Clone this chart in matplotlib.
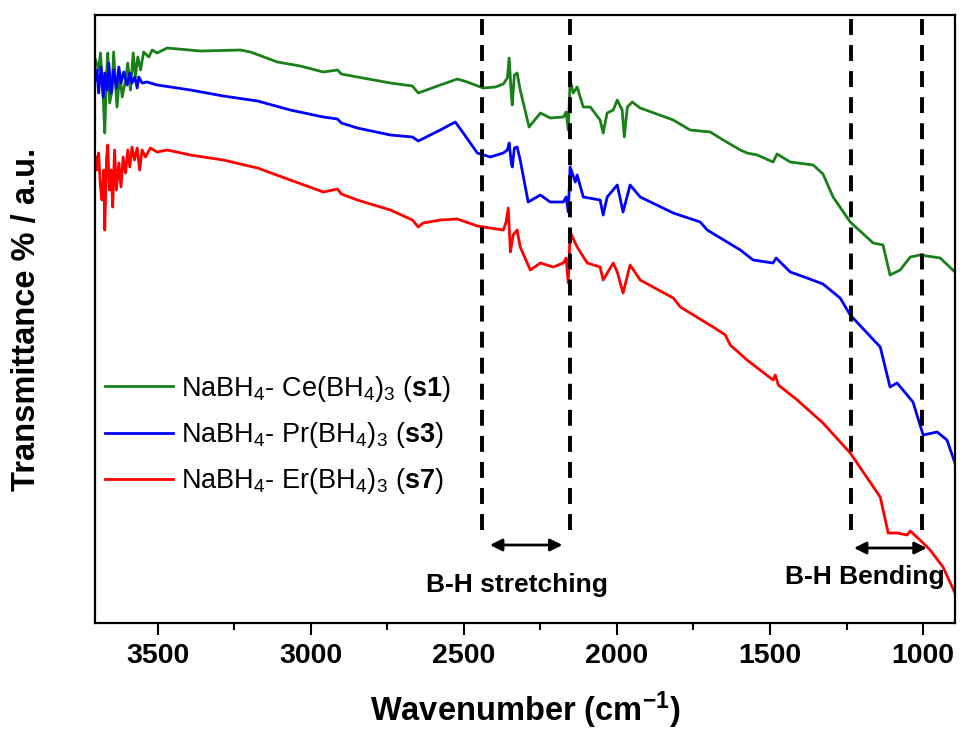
import numpy as np
import matplotlib
matplotlib.use("Agg")
import matplotlib.pyplot as plt

plt.rcParams['font.family'] = ['Liberation Sans', 'DejaVu Sans']
plt.rcParams['mathtext.fontset'] = 'custom'
plt.rcParams['mathtext.rm'] = 'Liberation Sans'
plt.rcParams['mathtext.it'] = 'Liberation Sans:italic'
plt.rcParams['mathtext.bf'] = 'Liberation Sans:bold'

# s1 : NaBH4 - Ce(BH4)3  (wavenumber, transmittance a.u.)
wn_s1 = [3703, 3693, 3687, 3678, 3673, 3667, 3663, 3657, 3649, 3644, 3638, 3633,
         3624, 3616, 3605, 3598, 3589, 3580, 3573, 3565, 3556, 3546, 3529, 3518,
         3502, 3469, 3361, 3230, 3197, 3109, 3034, 2959, 2913, 2900, 2848, 2740,
         2668, 2649, 2577, 2521, 2489, 2437, 2397, 2371, 2358, 2352, 2345, 2342,
         2335, 2326, 2316, 2287, 2250, 2218, 2175, 2166, 2159, 2153, 2143, 2130,
         2110, 2087, 2055, 2045, 2032, 2012, 1999, 1983, 1976, 1966, 1950, 1924,
         1816, 1761, 1695, 1653, 1597, 1575, 1542, 1490, 1477, 1434, 1359, 1327,
         1294, 1238, 1163, 1131, 1108, 1075, 1042, 1010, 944, 896]
t_s1 = [56.3, 55.3, 57.0, 52.6, 49.0, 55.0, 57.0, 52.0, 53.3, 57.1, 54.0, 51.6,
        55.0, 52.6, 54.3, 56.0, 53.3, 57.0, 54.6, 56.6, 55.3, 57.1, 56.6, 57.3,
        57.0, 57.5, 57.2, 57.3, 57.1, 56.1, 55.7, 55.1, 55.3, 54.9, 54.6, 54.0,
        53.7, 53.0, 53.8, 54.4, 54.1, 53.5, 53.6, 53.9, 54.5, 56.5, 52.8, 51.8,
        54.8, 55.0, 53.3, 49.6, 51.0, 50.5, 50.6, 51.1, 49.3, 54.3, 53.0, 53.6,
        51.6, 51.6, 50.3, 49.0, 51.0, 51.3, 52.3, 51.3, 48.6, 51.6, 52.1, 51.5,
        50.3, 49.3, 49.1, 48.3, 47.3, 47.0, 46.8, 46.1, 46.9, 46.1, 45.8, 44.9,
        42.6, 40.1, 38.0, 37.8, 34.8, 35.3, 36.6, 36.8, 36.5, 35.1]

# s3 : NaBH4 - Pr(BH4)3
wn_s3 = [3703, 3698, 3693, 3685, 3678, 3673, 3665, 3660, 3652, 3644, 3635, 3627,
         3620, 3611, 3600, 3591, 3584, 3575, 3567, 3562, 3551, 3535, 3502, 3393,
         3286, 3174, 3067, 2959, 2913, 2900, 2848, 2740, 2668, 2649, 2577, 2528,
         2502, 2456, 2414, 2371, 2358, 2352, 2345, 2342, 2335, 2326, 2316, 2290,
         2250, 2218, 2175, 2166, 2159, 2153, 2136, 2130, 2110, 2055, 2045, 2032,
         1999, 1980, 1957, 1924, 1816, 1728, 1705, 1597, 1555, 1490, 1480, 1434,
         1379, 1327, 1271, 1238, 1140, 1108, 1085, 1033, 1000, 954, 922, 896]
t_s3 = [54.3, 55.3, 53.0, 55.6, 52.6, 55.0, 53.3, 56.0, 53.0, 55.3, 53.5, 55.6,
        54.0, 55.1, 53.8, 55.0, 54.0, 54.6, 53.5, 54.6, 54.0, 54.1, 53.8, 53.3,
        52.7, 52.2, 51.3, 50.6, 50.4, 50.0, 49.5, 48.8, 48.6, 48.2, 49.3, 50.1,
        49.0, 47.0, 46.6, 47.0, 47.3, 48.0, 46.0, 45.6, 47.5, 47.6, 46.3, 42.1,
        42.8, 42.1, 42.1, 42.6, 41.1, 45.6, 44.1, 44.8, 42.6, 42.3, 40.8, 42.6,
        43.8, 41.1, 43.8, 42.6, 41.0, 40.1, 39.3, 37.3, 36.3, 36.0, 36.5, 35.1,
        34.5, 33.9, 32.5, 30.8, 27.6, 23.6, 24.0, 22.1, 18.8, 19.1, 18.3, 16.0]

# s7 : NaBH4 - Er(BH4)3
wn_s7 = [3703, 3698, 3693, 3687, 3682, 3676, 3673, 3667, 3663, 3658, 3652, 3647,
         3641, 3635, 3627, 3620, 3613, 3605, 3598, 3591, 3584, 3576, 3567, 3559,
         3551, 3540, 3524, 3502, 3469, 3393, 3286, 3174, 3067, 2959, 2913, 2900,
         2848, 2740, 2668, 2649, 2633, 2577, 2521, 2456, 2414, 2371, 2362, 2355,
         2348, 2339, 2326, 2316, 2283, 2250, 2208, 2175, 2166, 2159, 2153, 2130,
         2097, 2055, 2045, 2012, 1999, 1980, 1957, 1924, 1816, 1793, 1686, 1646,
         1630, 1575, 1490, 1483, 1473, 1411, 1327, 1238, 1140, 1114, 1085, 1052,
         1042, 1010, 977, 935, 896]
t_s7 = [46.6, 45.3, 47.0, 43.6, 42.3, 45.3, 39.3, 46.6, 47.8, 43.3, 45.3, 41.6,
        47.3, 43.3, 46.0, 43.6, 46.6, 45.0, 47.3, 45.6, 47.6, 46.3, 47.5, 45.3,
        47.3, 46.6, 47.5, 47.1, 47.3, 46.8, 46.3, 45.5, 44.3, 43.1, 43.4, 42.9,
        42.3, 41.3, 40.3, 39.6, 40.0, 40.3, 40.4, 39.7, 39.5, 39.3, 40.1, 41.5,
        37.1, 38.8, 39.3, 37.6, 35.3, 36.0, 35.6, 36.0, 36.5, 34.0, 39.1, 37.6,
        36.0, 35.6, 34.3, 36.0, 35.1, 33.0, 35.8, 34.3, 32.5, 31.6, 29.6, 28.8,
        27.8, 26.3, 24.3, 24.8, 23.8, 22.3, 20.0, 17.0, 12.6, 9.0, 9.0, 8.8,
        9.2, 8.3, 7.3, 5.6, 3.0]

labels = [r"NaBH$_4$- Ce(BH$_4$)$_3$ ($\mathbf{s1}$)",
          r"NaBH$_4$- Pr(BH$_4$)$_3$ ($\mathbf{s3}$)",
          r"NaBH$_4$- Er(BH$_4$)$_3$ ($\mathbf{s7}$)"]
colors = ['#1a801a', '#0000ff', '#ff0000']

# band markers
band_lines = [2440, 2153, 1235, 1003]
stretch_span = (2424, 2169)
bend_span = (1235, 979)

fig = plt.figure(figsize=(9.64, 7.32), dpi=100)
ax = fig.add_axes([0.0985, 0.1489, 0.8921, 0.8306])

for wn, t, lab, c in zip([wn_s1, wn_s3, wn_s7], [t_s1, t_s3, t_s7], labels, colors):
    ax.plot(wn, t, color=c, lw=2.0, label=lab)

for x in band_lines:
    ax.plot([x, x], [9.3, 60.8], color='black', lw=2.8,
            linestyle=(0, (4.1, 2.6)), clip_on=False)

ax.annotate('', xy=(stretch_span[1], 7.8), xytext=(stretch_span[0], 7.8),
            arrowprops=dict(arrowstyle='<|-|>', color='black', lw=2.0, mutation_scale=18))
ax.annotate('', xy=(bend_span[1], 7.5), xytext=(bend_span[0], 7.5),
            arrowprops=dict(arrowstyle='<|-|>', color='black', lw=2.0, mutation_scale=18))
ax.text(2326, 3.8, 'B-H stretching', ha='center', va='center',
        fontsize=19, fontweight='bold')
ax.text(1189, 4.6, 'B-H Bending', ha='center', va='center',
        fontsize=19, fontweight='bold')

ax.set_xlim(3705, 896)
ax.set_ylim(0, 60.8)
ax.set_xticks([3500, 3000, 2500, 2000, 1500, 1000])
ax.set_xticks(np.arange(1250, 3700, 500), minor=True)
ax.tick_params(axis='x', which='major', direction='out', length=8.5, width=1.5,
               labelsize=20.5, pad=6)
ax.tick_params(axis='x', which='minor', direction='out', length=5, width=1.5)
ax.tick_params(axis='y', left=False, labelleft=False)
for lab in ax.get_xticklabels():
    lab.set_fontweight('bold')
for sp in ax.spines.values():
    sp.set_linewidth(1.6)

ax.set_xlabel(r"Wavenumber $\mathbf{(cm^{-1})}$", fontsize=23.5, fontweight='bold', labelpad=15)
ax.set_ylabel("Transmittance % / a.u.", fontsize=23.5, fontweight='bold')
ax.yaxis.set_label_coords(-0.0616, 0.5)

ax.legend(loc='center left', bbox_to_anchor=(0.0116, 0.309), frameon=False,
          fontsize=19.5, handlelength=2.5, handletextpad=0.3, labelspacing=0.6,
          borderpad=0, borderaxespad=0)

fig.savefig('out.png', dpi=100)
